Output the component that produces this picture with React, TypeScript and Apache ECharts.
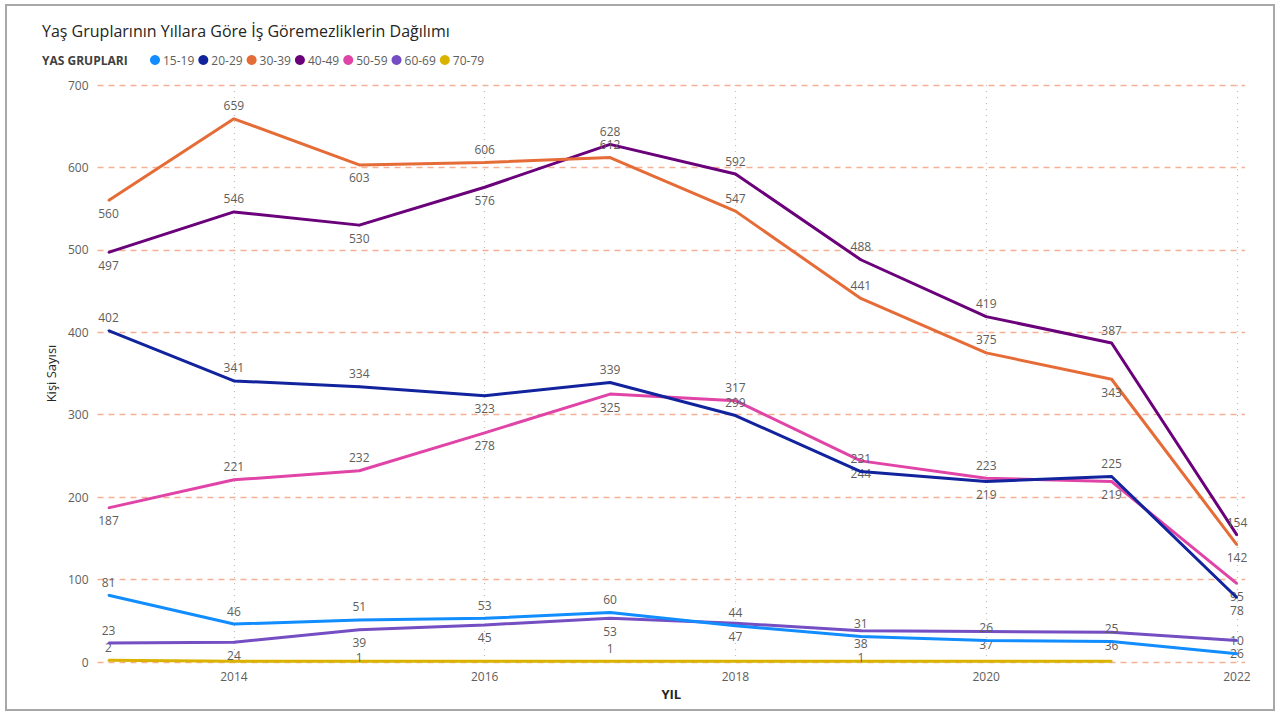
import React, { useEffect, useRef } from "react";
import * as echarts from "echarts";

const years = [2013, 2014, 2015, 2016, 2017, 2018, 2019, 2020, 2021, 2022];
const groups = ["15-19", "20-29", "30-39", "40-49", "50-59", "60-69", "70-79"];
const v15_19 = [81, 46, 51, 53, 60, 44, 31, 26, 25, 10];
const v20_29 = [402, 341, 334, 323, 339, 299, 231, 219, 225, 78];
const v30_39 = [560, 659, 603, 606, 612, 547, 441, 375, 343, 142];
const v40_49 = [497, 546, 530, 576, 628, 592, 488, 419, 387, 154];
const v50_59 = [187, 221, 232, 278, 325, 317, 244, 223, 219, 95];
const v60_69 = [23, 24, 39, 45, 53, 47, 38, 37, 36, 26];
const v70_79: (number | null)[] = [2, 1, 1, 1, 1, 1, 1, 1, 1, null];
const yTicks = [0, 100, 200, 300, 400, 500, 600, 700];

const seriesValues = [v15_19, v20_29, v30_39, v40_49, v50_59, v60_69, v70_79];

// styling
const colors = ["#118DFF", "#12239E", "#E66C37", "#6B007B", "#E044A7", "#744EC2", "#D9B300"];
// t = above, b = below, m = on the line
const labelPlacement = [
  "tttttttttt",
  "tttbtttbtb",
  "btbtttttbb",
  "btbbtttttt",
  "bttbbtbtbb",
  "tbbbbbbbbb",
  "ttmttttttt",
];
const labelShown = (s: number, i: number) => (s === 6 ? i % 2 === 0 && i < 8 : true);

const FONT = "'Open Sans', 'Noto Sans', sans-serif";

export default function App() {
  const ref = useRef<HTMLDivElement>(null);
  useEffect(() => {
    if (!ref.current) return;
    const chart = echarts.init(ref.current, null, { renderer: "svg" });
    const series = groups.map((g, s) => ({
      name: g,
      type: "line",
      showSymbol: true,
      symbol: "circle",
      symbolSize: 2,
      connectNulls: false,
      lineStyle: { width: 3, color: colors[s] },
      itemStyle: { color: colors[s] },
      emphasis: { disabled: true },
      z: 10 - s,
      data: years.map((y, i) => {
        const v = seriesValues[s][i];
        const p = labelPlacement[s][i];
        const mid = p === "m" || (s === 6 && i === 6);
        return {
          value: [y, v],
          label: {
            show: v !== null && labelShown(s, i),
            position: mid ? "inside" : p === "t" ? "top" : "bottom",
            offset: mid ? [0, -4] : [0, 0],
            distance: 6,
            color: "#605E5C",
            fontSize: 12,
            fontFamily: FONT,
            formatter: String(v),
          },
        };
      }),
    }));
    chart.setOption({
      animation: false,
      backgroundColor: "#ffffff",
      textStyle: { fontFamily: FONT },
      graphic: [
        {
          type: "rect",
          shape: { x: 6, y: 5, width: 1268, height: 705 },
          style: { fill: "none", stroke: "#A8A8A8", lineWidth: 2 },
          silent: true,
        },
        {
          type: "text",
          x: 42,
          y: 31,
          style: {
            text: "Yaş Gruplarının Yıllara Göre İş Göremezliklerin Dağılımı",
            fontSize: 16,
            fontFamily: FONT,
            fill: "#252423",
            textVerticalAlign: "middle",
          },
        },
        {
          type: "text",
          x: 42,
          y: 60,
          style: {
            text: "YAS GRUPLARI",
            fontSize: 12,
            fontWeight: "bold",
            fontFamily: FONT,
            fill: "#404040",
            textVerticalAlign: "middle",
          },
        },
      ],
      legend: {
        left: 150,
        top: 54,
        icon: "circle",
        itemWidth: 10,
        itemHeight: 10,
        itemGap: 4,
        padding: 0,
        textStyle: { color: "#605E5C", fontSize: 12, fontFamily: FONT, padding: [0, 0, 0, -2] },
        data: groups,
      },
      grid: { left: 97.5, right: 33, top: 85, bottom: 51, containLabel: false },
      xAxis: {
        type: "value",
        min: 2012.912,
        max: 2022.064,
        splitNumber: 5,
        name: "YIL",
        nameLocation: "middle",
        nameGap: 25,
        nameTextStyle: { color: "#252423", fontSize: 13, fontWeight: "bold", fontFamily: FONT },
        axisLine: { show: false },
        axisTick: { show: false },
        axisLabel: {
          color: "#605E5C",
          fontSize: 12,
          margin: 8,
          showMinLabel: false,
          showMaxLabel: false,
          formatter: (v: number) => (Number.isInteger(v) ? String(v) : ""),
        },
        splitLine: {
          show: true,
          showMinLine: false,
          showMaxLine: false,
          lineStyle: { color: "#BDBDBD", type: [1, 5], width: 1.2 },
        },
      },
      yAxis: {
        type: "value",
        min: yTicks[0],
        max: yTicks[yTicks.length - 1],
        interval: 100,
        name: "Kişi Sayısı",
        nameLocation: "middle",
        nameGap: 38,
        nameRotate: 90,
        nameTextStyle: { color: "#252423", fontSize: 13, fontFamily: FONT },
        axisLine: { show: false },
        axisTick: { show: false },
        axisLabel: { color: "#605E5C", fontSize: 12, margin: 9 },
        splitLine: { lineStyle: { color: "#F5AF94", type: [6, 5], width: 1.3 } },
      },
      series,
    });
    return () => chart.dispose();
  }, []);
  return (
    <div
      ref={ref}
      style={{ position: "fixed", left: 0, top: 0, width: 1278, height: 713 }}
    />
  );
}
